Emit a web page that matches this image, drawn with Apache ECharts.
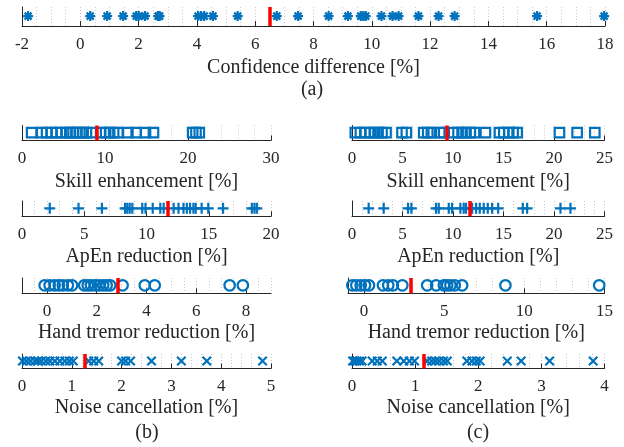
<!DOCTYPE html>
<html>
<head>
<meta charset="utf-8">
<script src="https://cdn.jsdelivr.net/npm/echarts@6/dist/echarts.min.js"></script>
<style>
  html, body { margin: 0; padding: 0; background: #fff; }
  #chart { width: 624px; height: 447px; }
</style>
</head>
<body>
<div id="chart"></div>
<script>
// (a) confidence difference
const confDiff = [-1.79, 0.34, 0.92, 1.47, 1.92, 2.0, 2.22, 2.67, 2.72, 4.04, 4.14, 4.25, 4.55, 5.4,
  6.74, 7.47, 8.52, 9.18, 9.62, 9.71, 9.79, 10.33, 10.71, 10.92, 11.6, 12.29, 12.84, 15.67, 17.97];
const confMean = 6.5;
const confTicks = [-2, 0, 2, 4, 6, 8, 10, 12, 14, 16, 18];

// (b)
const skillB = [1.16, 2.36, 2.96, 3.56, 4.16, 4.76, 5.36, 5.76, 6.16, 6.56, 6.96, 7.36, 7.76, 8.36,
  9.48, 10.08, 10.56, 11.04, 11.56, 12.76, 13.76, 14.88, 15.84, 20.56, 20.96, 21.36, 30.1];
const apenB = [2.23, 4.54, 6.42, 8.28, 8.46, 8.65, 8.86, 9.66, 9.92, 10.5, 11.11, 11.38, 12.18, 12.57,
  12.97, 13.24, 13.5, 13.77, 13.95, 14.43, 14.96, 16.15, 18.46, 18.67, 18.86];
const tremorB = [-0.09, 0.11, 0.31, 0.48, 0.64, 0.84, 1.01, 1.5, 1.64, 1.77, 1.94, 2.1, 2.26, 2.4,
  2.54, 3.04, 3.93, 4.33, 7.34, 7.87];
const noiseB = [0.01, 0.09, 0.17, 0.26, 0.32, 0.39, 0.48, 0.56, 0.66, 0.76, 0.86, 0.95, 1.03, 1.34,
  1.44, 1.54, 2.0, 2.08, 2.18, 2.6, 3.2, 3.71, 4.83];
const meansB = [8.96, 11.72, 2.84, 1.25];

// (c)
const skillC = [0.33, 0.83, 1.32, 1.82, 2.21, 2.58, 2.97, 3.37, 4.95, 5.38, 7.1, 7.5, 7.86, 8.69, 9.08,
  10.07, 10.5, 10.9, 11.29, 11.72, 12.12, 13.21, 14.6, 15.03, 15.52, 15.95, 16.35, 20.54, 22.29, 24.04];
const apenC = [1.65, 3.14, 5.55, 5.88, 8.32, 8.59, 9.58, 9.91, 10.73, 11.06, 11.29, 11.89, 12.29, 12.65,
  13.04, 13.44, 13.87, 14.47, 16.91, 17.34, 20.64, 21.63];
const tremorC = [-0.73, -0.48, -0.21, 0.06, 0.31, 1.18, 1.51, 1.8, 2.39, 3.94, 4.5, 4.98, 5.19, 5.39,
  5.66, 6.12, 8.82, 14.67];
const noiseC = [0.01, 0.04, 0.08, 0.12, 0.16, 0.32, 0.4, 0.48, 0.71, 0.82, 0.91, 0.99, 1.19, 1.26, 1.32,
  1.38, 1.45, 1.51, 1.82, 1.9, 1.97, 2.03, 2.46, 2.68, 3.13, 3.82];
const meansC = [9.41, 11.66, 2.92, 1.13];

const names = ['Skill enhancement [%]', 'ApEn reduction [%]', 'Hand tremor reduction [%]', 'Noise cancellation [%]'];
const ticksB = [[0, 10, 20, 30], [0, 5, 10, 15, 20], [0, 2, 4, 6, 8], [0, 1, 2, 3, 4, 5]];
const ticksC = [[0, 5, 10, 15, 20, 25], [0, 5, 10, 15, 20, 25], [0, 5, 10, 15], [0, 1, 2, 3, 4]];

const BLUE = '#0072BD';
const INK = '#262626';
const FONT = 'Liberation Serif';
const Y_POS = 0.52;

const SYM = {
  star: 'path://M5,0L5,10M0,5L10,5M1.5,1.5L8.5,8.5M8.5,1.5L1.5,8.5',
  plus: 'path://M5,0L5,10M0,5L10,5',
  cross: 'path://M0,0L10,10M10,0L0,10'
};

// [min, max, grid step] per axis
const rangesB = [[0, 30, 2], [0, 20, 1], [-1, 9, 0.5], [0, 5, 0.2]];
const rangesC = [[0, 25, 1], [0, 25, 1], [-1, 15, 1], [0, 4, 0.2]];
const rowTops = [125.5, 201, 278, 354];
const rowH = [15, 15.3, 15.3, 14.5];
const nameGaps = [31, 30, 29, 29];
const markers = [
  { symbol: 'rect', size: 9.5 },
  { symbol: SYM.plus, size: 11 },
  { symbol: 'circle', size: 10.5 },
  { symbol: SYM.cross, size: 8.5 }
];

const grids = [];
const xAxes = [];
const yAxes = [];
const series = [];

function addPanel(grid, range, ticks, name, gap, values, mean, marker) {
  const gi = grids.length;
  grids.push(grid);
  // visible axis: ticks and labels at the major values only
  xAxes.push({
    gridIndex: gi, type: 'value', min: range[0], max: range[1],
    name: name, nameLocation: 'middle', nameGap: gap,
    nameTextStyle: { fontFamily: FONT, fontSize: 20, color: INK },
    axisLine: { onZero: false, lineStyle: { color: INK, width: 1 } },
    axisTick: { inside: true, length: 5, customValues: ticks, lineStyle: { color: INK } },
    axisLabel: { customValues: ticks, margin: 10, fontFamily: FONT, fontSize: 17, color: INK },
    splitLine: { show: false }
  });
  // helper axis for the dotted minor grid
  xAxes.push({
    gridIndex: gi, type: 'value', min: range[0], max: range[1], interval: range[2],
    position: 'bottom',
    axisLine: { show: false }, axisTick: { show: false }, axisLabel: { show: false },
    splitLine: { show: true, lineStyle: { color: '#c8c8c8', type: [1, 2], width: 1 } }
  });
  yAxes.push({
    gridIndex: gi, type: 'value', min: 0, max: 1,
    axisLine: { show: true, onZero: false, lineStyle: { color: INK, width: 1 } },
    axisTick: { show: false }, axisLabel: { show: false }, splitLine: { show: false }
  });
  series.push({
    type: 'scatter', xAxisIndex: 2 * gi, yAxisIndex: gi,
    data: values.map(v => [v, Y_POS]),
    symbol: marker.symbol, symbolSize: marker.size,
    itemStyle: { color: 'rgba(0,0,0,0)', borderColor: BLUE, borderWidth: 2.2, opacity: 1 },
    silent: true,
    markLine: {
      silent: true, symbol: 'none', label: { show: false },
      lineStyle: { color: '#ff0000', width: 3.5, type: 'solid' },
      data: [{ xAxis: mean }]
    }
  });
}

addPanel({ left: 22, top: 7, width: 583, height: 19 }, [-2, 18, 0.5], confTicks,
  'Confidence difference [%]', 32, confDiff, confMean, { symbol: SYM.star, size: 10 });

const dataB = [skillB, apenB, tremorB, noiseB];
const dataC = [skillC, apenC, tremorC, noiseC];
for (let i = 0; i < 4; i++) {
  addPanel({ left: 22, top: rowTops[i], width: 249, height: rowH[i] }, rangesB[i], ticksB[i],
    names[i], nameGaps[i], dataB[i], meansB[i], markers[i]);
}
for (let i = 0; i < 4; i++) {
  const left = i === 2 ? 348 : 352;
  addPanel({ left: left, top: rowTops[i], width: 604.5 - left, height: rowH[i] }, rangesC[i], ticksC[i],
    names[i], nameGaps[i], dataC[i], meansC[i], markers[i]);
}

const panelLabel = (txt, x, y) => ({
  type: 'text', x: x, y: y,
  style: { text: txt, font: '20px "Liberation Serif"', fill: INK, textAlign: 'center', textVerticalAlign: 'middle' }
});

const chart = echarts.init(document.getElementById('chart'), null, { renderer: 'canvas' });
chart.setOption({
  animation: false,
  grid: grids,
  xAxis: xAxes,
  yAxis: yAxes,
  series: series,
  graphic: [
    panelLabel('(a)', 312, 90),
    panelLabel('(b)', 147, 433),
    panelLabel('(c)', 478, 433)
  ]
});
</script>
</body>
</html>
